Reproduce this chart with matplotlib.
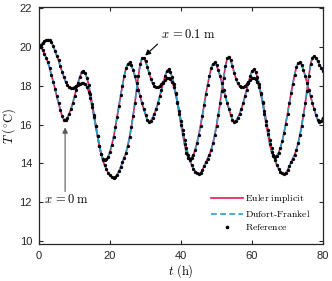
import numpy as np
import matplotlib
matplotlib.use("Agg")
import matplotlib.pyplot as plt

plt.rcParams['mathtext.fontset'] = 'cm'
plt.rcParams['font.family'] = ['Liberation Sans', 'DejaVu Sans']

# time in hours (sampled every 0.5 h)
t = np.arange(0, 80.5, 0.5)

# temperature at x = 0 m (deg C)
T_x0 = [
    20.0, 20.0, 19.85, 19.65, 19.45, 19.2, 18.9, 18.55, 18.2, 17.85,
    17.45, 17.1, 16.75, 16.45, 16.25, 16.25, 16.35, 16.55, 16.8, 17.1,
    17.45, 17.8, 18.15, 18.45, 18.7, 18.75, 18.65, 18.4, 18.05, 17.55,
    17.05, 16.5, 15.95, 15.4, 14.9, 14.5, 14.25, 14.15, 14.2, 14.35,
    14.6, 14.95, 15.35, 15.85, 16.4, 16.95, 17.5, 18.0, 18.5, 18.9, 19.1, 19.2,
    19.05, 18.8, 18.5, 18.15, 17.8, 17.45,
    17.1, 16.8, 16.5, 16.25, 16.15, 16.2, 16.35, 16.55, 16.8, 17.1,
    17.45, 17.8, 18.15, 18.5, 18.75, 18.85, 18.7, 18.45, 18.1, 17.6,
    17.1, 16.55, 16.0, 15.5, 15.0, 14.55, 14.3, 14.25, 14.3, 14.45,
    14.7, 15.05, 15.45, 15.95, 16.45, 17.0, 17.55, 18.05,
    18.5, 18.9, 19.12, 19.2,
    19.05, 18.8, 18.5, 18.15, 17.8, 17.45,
    17.1, 16.8, 16.5, 16.25, 16.15, 16.2, 16.35, 16.55, 16.8, 17.1,
    17.45, 17.8, 18.15, 18.5, 18.75, 18.85, 18.7, 18.45, 18.1, 17.6,
    17.1, 16.55, 16.0, 15.5, 15.0, 14.6, 14.4, 14.35, 14.4, 14.55,
    14.8, 15.15, 15.55, 16.05, 16.55, 17.1, 17.6, 18.1,
    18.55, 18.95, 19.15, 19.2, 19.05, 18.8, 18.5, 18.15, 17.8, 17.45,
    17.1, 16.8, 16.5, 16.25, 16.15, 16.2, 16.35,
]

# temperature at x = 0.1 m (deg C)
T_x01 = [
    20.0, 20.1, 20.2, 20.28, 20.33, 20.37, 20.35, 20.25, 20.05, 19.8,
    19.55, 19.3, 19.0, 18.7, 18.45, 18.2, 18.04, 17.93, 17.87, 17.88,
    17.93, 18.0, 18.05, 18.1, 18.12, 18.12, 18.08, 17.95, 17.7, 17.35,
    16.9, 16.4, 15.9, 15.4, 14.9, 14.5, 14.15, 13.9, 13.7, 13.5,
    13.38, 13.3, 13.27, 13.3, 13.42, 13.6, 13.8, 14.05, 14.3, 14.55,
    14.9, 15.35, 15.85, 16.45, 17.1, 17.8, 18.5, 19.1, 19.4, 19.42,
    19.25, 18.98, 18.65, 18.35, 18.12, 17.98, 17.92, 17.92, 17.98, 18.08,
    18.2, 18.3, 18.38, 18.4, 18.33, 18.18, 17.92, 17.58, 17.18, 16.7,
    16.2, 15.7, 15.22, 14.8, 14.45, 14.15, 13.9, 13.72,
    13.58, 13.5, 13.45, 13.5, 13.65, 13.85, 14.05, 14.25, 14.45, 14.7,
    15.05, 15.45, 15.95, 16.5, 17.1, 17.75, 18.4, 19.0, 19.4, 19.5,
    19.3, 19.0, 18.65, 18.35, 18.12, 17.98, 17.92, 17.92, 17.98, 18.08,
    18.2, 18.3, 18.38, 18.4, 18.33, 18.18, 17.92, 17.58, 17.18, 16.7,
    16.2, 15.7, 15.22, 14.8, 14.45, 14.15, 13.9, 13.72,
    13.58, 13.5, 13.45, 13.5, 13.65, 13.85, 14.05, 14.25, 14.45, 14.7,
    15.05, 15.45, 15.95, 16.5, 17.1, 17.75, 18.5, 19.1, 19.45, 19.52,
    19.42, 19.25, 19.08, 18.92, 18.77,
]

series_labels = [r'$\mathrm{Euler\ implicit}$', r'$\mathrm{Dufort\text{-}Frankel}$',
                 r'$\mathrm{Reference}$']
xticks = [0, 20, 40, 60, 80]
yticks = [10, 12, 14, 16, 18, 20, 22]

red = '#e8194a'
cyan = '#2a9fd0'

fig = plt.figure(figsize=(3.32, 2.81), dpi=100)
ax = fig.add_axes([39/332, 1-244/281, 284/332, 237/281])

for i, T in enumerate([T_x0, T_x01]):
    ax.plot(t, T, '-', color=red, lw=1.2, label=series_labels[0] if i == 0 else None)
for i, T in enumerate([T_x0, T_x01]):
    ax.plot(t, T, '--', color=cyan, lw=1.2, dashes=(3.5, 2.0),
            label=series_labels[1] if i == 0 else None)
for i, T in enumerate([T_x0, T_x01]):
    ax.plot(t, T, 'o', color='black', ms=2.4, mew=0,
            label=series_labels[2] if i == 0 else None)

ax.set_xlim(0, 80)
ax.set_ylim(9.85, 22.05)
ax.set_xticks(xticks)
ax.set_yticks(yticks)
ax.tick_params(direction='in', top=True, right=True, length=3, width=0.8,
               labelsize=8, pad=5, colors='#262626')
for s in ax.spines.values():
    s.set_linewidth(0.9)
    s.set_color('#262626')

ax.set_xlabel(r'$t\ (\mathrm{h})$', fontsize=9, labelpad=1)
ax.set_ylabel(r'$T\ (^{\circ}\mathrm{C})$', fontsize=9, labelpad=1)

# x = 0.1 m annotation
ax.annotate('', xy=(29.9, 19.55), xytext=(33.4, 20.14),
            arrowprops=dict(arrowstyle='-|>', color='black', lw=0.8,
                            mutation_scale=8, shrinkA=0, shrinkB=0))
ax.text(34.4, 20.65, r'$x\,=0.1\ \mathrm{m}$', fontsize=9, ha='left', va='center')

# x = 0 m annotation
ax.annotate('', xy=(7.35, 15.85), xytext=(7.35, 12.55),
            arrowprops=dict(arrowstyle='-|>', color='0.35', lw=0.8,
                            mutation_scale=8, shrinkA=0, shrinkB=0))
ax.text(1.3, 12.12, r'$x\,=0\ \mathrm{m}$', fontsize=9, ha='left', va='center')

leg = ax.legend(loc='lower right', bbox_to_anchor=(0.955, 0.05), frameon=False,
                fontsize=7, handlelength=3.2, handletextpad=0.2,
                labelspacing=0.3, borderpad=0, borderaxespad=0, markerscale=1.1)

fig.savefig('out.png', dpi=100)
